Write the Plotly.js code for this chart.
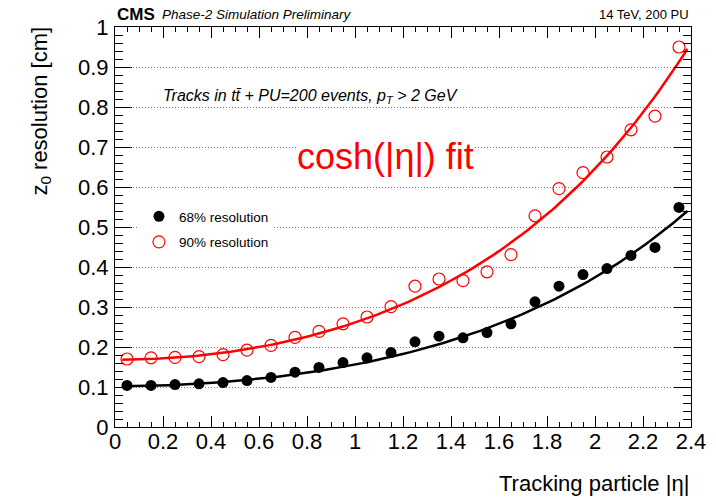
<!DOCTYPE html>
<html>
<head>
<meta charset="utf-8">
<script src="https://cdn.plot.ly/plotly-3.0.1.min.js"></script>
<style>html,body{margin:0;padding:0;background:#fff;}#chart{width:716px;height:499px;}</style>
</head>
<body>
<div id="chart"></div>
<script>
// ---- data ----
const eta = [0.05,0.15,0.25,0.35,0.45,0.55,0.65,0.75,0.85,0.95,1.05,1.15,1.25,1.35,1.45,1.55,1.65,1.75,1.85,1.95,2.05,2.15,2.25,2.35];
const res68 = [0.104,0.104,0.106,0.108,0.111,0.116,0.124,0.137,0.149,0.161,0.173,0.186,0.213,0.227,0.223,0.236,0.258,0.313,0.352,0.381,0.396,0.429,0.449,0.549];
const res90 = [0.170,0.173,0.174,0.176,0.181,0.192,0.204,0.224,0.239,0.258,0.275,0.301,0.352,0.370,0.366,0.388,0.431,0.528,0.596,0.636,0.675,0.743,0.777,0.950];
// cosh fit parameters: f(eta) = A * cosh(eta)^N
const fitA = [0.102, 0.168];
const fitN = [0.980, 1.016];
const fitRange = [0.03, 2.385];
const seriesNames = ['68% resolution', '90% resolution'];
const xTickVals = [0,0.2,0.4,0.6,0.8,1,1.2,1.4,1.6,1.8,2,2.2,2.4];
const xTickText = ['0','0.2','0.4','0.6','0.8','1','1.2','1.4','1.6','1.8','2','2.2','2.4'];
const yTickVals = [0,0.1,0.2,0.3,0.4,0.5,0.6,0.7,0.8,0.9,1];
const yTickText = ['0','0.1','0.2','0.3','0.4','0.5','0.6','0.7','0.8','0.9','1'];

function fitCurve(i){
  const xs=[], ys=[];
  const n=120;
  for(let k=0;k<=n;k++){
    const x = fitRange[0] + (fitRange[1]-fitRange[0])*k/n;
    xs.push(x);
    ys.push(fitA[i]*Math.pow(Math.cosh(x), fitN[i]));
  }
  return {xs, ys};
}
const f0 = fitCurve(0), f1 = fitCurve(1);
const FONT = 'Liberation Sans, Arial, Helvetica, sans-serif';

const traces = [
  {x:f1.xs, y:f1.ys, mode:'lines', line:{color:'#ff0000', width:2.5}, showlegend:false, hoverinfo:'skip'},
  {x:f0.xs, y:f0.ys, mode:'lines', line:{color:'#000000', width:2.5}, showlegend:false, hoverinfo:'skip'},
  {x:eta, y:res68, mode:'markers', name:seriesNames[0], legendgroup:'a',
   marker:{symbol:'circle', size:11, color:'#000000'}},
  {x:eta, y:res90, mode:'markers', name:seriesNames[1], legendgroup:'b',
   marker:{symbol:'circle-open', size:12, color:'#ff0000', line:{width:1.2, color:'#ff0000'}}}
];

const axisCommon = {
  showline:true, linecolor:'#000', linewidth:1, mirror:'allticks',
  ticks:'inside', tickcolor:'#000', tickwidth:1,
  tickfont:{family:FONT, size:22, color:'#000'},
  zeroline:false, tickmode:'array', fixedrange:true
};

const layout = {
  width:716, height:499,
  margin:{l:115, r:25, t:27, b:72},
  paper_bgcolor:'#fff', plot_bgcolor:'#fff',
  font:{family:FONT, color:'#000'},
  xaxis: Object.assign({}, axisCommon, {
    range:[0,2.4], tickvals:xTickVals, ticktext:xTickText, ticklen:11,
    showgrid:false, ticklabelstandoff:-5,
    minor:{dtick:0.05, ticklen:5, ticks:'inside', tickcolor:'#000', showgrid:false}
  }),
  yaxis: Object.assign({}, axisCommon, {
    range:[0,1], tickvals:yTickVals, ticktext:yTickText, ticklen:17,
    showgrid:true, gridcolor:'#7a7a7a', gridwidth:1, griddash:'1px,2px', ticklabelstandoff:1,
    minor:{dtick:0.02, ticklen:8, ticks:'inside', tickcolor:'#000', showgrid:false}
  }),
  showlegend:true,
  legend:{x:0.0416, y:0.565, xanchor:'left', yanchor:'top', bgcolor:'#fff',
    borderwidth:0, font:{family:FONT, size:13.5, color:'#000'}, tracegroupgap:5,
    itemwidth:30, traceorder:'grouped'},
  annotations:[
    {xref:'paper', yref:'paper', x:0, y:1.031, xanchor:'left', yanchor:'middle', showarrow:false,
     text:'<b>CMS</b>', font:{family:FONT, size:17, color:'#000'}},
    {xref:'paper', yref:'paper', x:0.0773, y:1.03, xanchor:'left', yanchor:'middle', showarrow:false,
     text:'<i>Phase-2 Simulation Preliminary</i>', font:{family:FONT, size:13.5, color:'#000'}},
    {xref:'paper', yref:'paper', x:1, y:1.03, xanchor:'right', yanchor:'middle', showarrow:false,
     text:'14 TeV, 200 PU', font:{family:FONT, size:13, color:'#000'}},
    {xref:'paper', yref:'paper', x:0.079, y:0.8275, xanchor:'left', yanchor:'middle', showarrow:false,
     text:'<i>Tracks in tt\u0304 + PU=200 events, p<sub>T</sub> > 2 GeV</i>', font:{family:FONT, size:16, color:'#000'}},
    {xref:'paper', yref:'paper', x:0.469, y:0.675, xanchor:'center', yanchor:'middle', showarrow:false,
     text:'cosh(|\u03b7|) fit', font:{family:FONT, size:36, color:'#ff0000'}, bgcolor:'#fff', borderpad:0},
    {xref:'paper', yref:'paper', x:1, y:-0.14, xanchor:'right', yanchor:'middle', showarrow:false,
     text:'Tracking particle |\u03b7|', font:{family:FONT, size:22, color:'#000'}},
    {xref:'paper', yref:'paper', x:-0.13, y:1.005, xanchor:'center', yanchor:'top', showarrow:false, textangle:-90,
     text:'z<sub>0</sub> resolution [cm]', font:{family:FONT, size:22, color:'#000'}}
  ]
};

Plotly.newPlot('chart', traces, layout, {displayModeBar:false, staticPlot:true});
</script>
</body>
</html>
